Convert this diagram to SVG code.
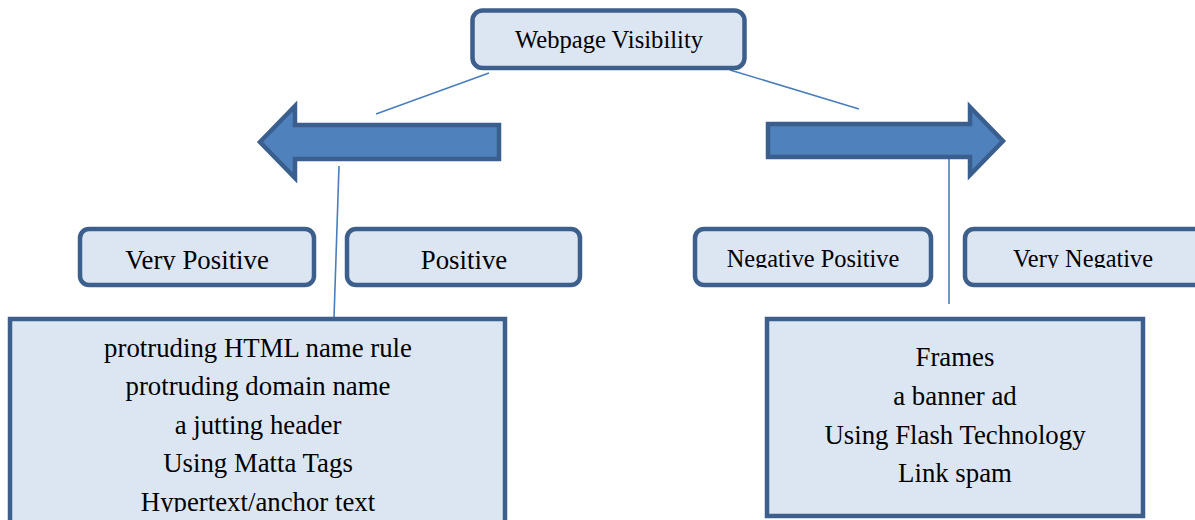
<svg xmlns="http://www.w3.org/2000/svg" width="1195" height="520" viewBox="0 0 1195 520">
<style>
.box{fill:#dce6f2;stroke:#3d5f8c;stroke-width:4.5}
.arrow{fill:#4f81bd;stroke:#3a5f8e;stroke-width:4.5;stroke-linejoin:miter}
.conn{stroke:#4a7ebb;stroke-width:1.6;fill:none}
text{font-family:'Liberation Serif',Tinos,'Times New Roman','DejaVu Serif',serif;fill:#000;text-anchor:middle}
.t24{font-size:24.4px}
.t26{font-size:26.8px}
</style>
<defs>
<clipPath id="cVP"><rect x="80" y="229" width="234" height="41"/></clipPath>
<clipPath id="cP"><rect x="347" y="229" width="233" height="41"/></clipPath>
<clipPath id="cNP"><rect x="695" y="229" width="236" height="39"/></clipPath>
<clipPath id="cVN"><rect x="965" y="229" width="240" height="39"/></clipPath>
<clipPath id="cL"><rect x="10" y="319" width="495" height="193"/></clipPath>
</defs>
<g id="connectors">
<line class="conn" x1="489" y1="73" x2="376" y2="114"/>
<line class="conn" x1="730" y1="70" x2="859" y2="109"/>
<line class="conn" x1="339" y1="166" x2="334" y2="318"/>
<line class="conn" x1="949" y1="153" x2="949" y2="304"/>
</g>
<g id="arrow-left">
<polygon class="arrow" points="260,142 295,106 295,125 499,125 499,159 295,159 295,178"/>
</g>
<g id="arrow-right">
<polygon class="arrow" points="1003,141 970,107 970,124 768,124 768,157 970,157 970,175"/>
</g>
<g id="node-webpage">
<rect class="box" x="472.5" y="10.5" width="272" height="57.5" rx="10"/>
<text x="609" y="48" font-size="24.6">Webpage Visibility</text>
</g>
<g id="node-very-positive">
<rect class="box" x="80" y="229" width="234" height="56" rx="9"/>
<text class="t26" x="197" y="269" clip-path="url(#cVP)">Very Positive</text>
</g>
<g id="node-positive">
<rect class="box" x="347" y="229" width="233" height="56" rx="9"/>
<text class="t26" x="464" y="269" clip-path="url(#cP)">Positive</text>
</g>
<g id="node-negative-positive">
<rect class="box" x="695" y="229" width="236" height="56" rx="9"/>
<text class="t24" x="813" y="267" clip-path="url(#cNP)">Negative Positive</text>
</g>
<g id="node-very-negative">
<rect class="box" x="965" y="229" width="240" height="56" rx="9"/>
<text class="t24" x="1083" y="267" clip-path="url(#cVN)">Very Negative</text>
</g>
<g id="node-positive-list">
<rect class="box" x="10" y="319" width="495" height="220"/>
<g clip-path="url(#cL)">
<text class="t26" x="258" y="357">protruding HTML name rule</text>
<text class="t26" x="258" y="395">protruding domain name</text>
<text class="t26" x="258" y="434">a jutting header</text>
<text class="t26" x="258" y="472">Using Matta Tags</text>
<text class="t26" x="258" y="511">Hypertext/anchor text</text>
</g>
</g>
<g id="node-negative-list">
<rect class="box" x="767" y="319" width="376" height="197"/>
<text class="t26" x="955" y="366">Frames</text>
<text class="t26" x="955" y="405">a banner ad</text>
<text class="t26" x="955" y="444">Using Flash Technology</text>
<text class="t26" x="955" y="482">Link spam</text>
</g>
</svg>
